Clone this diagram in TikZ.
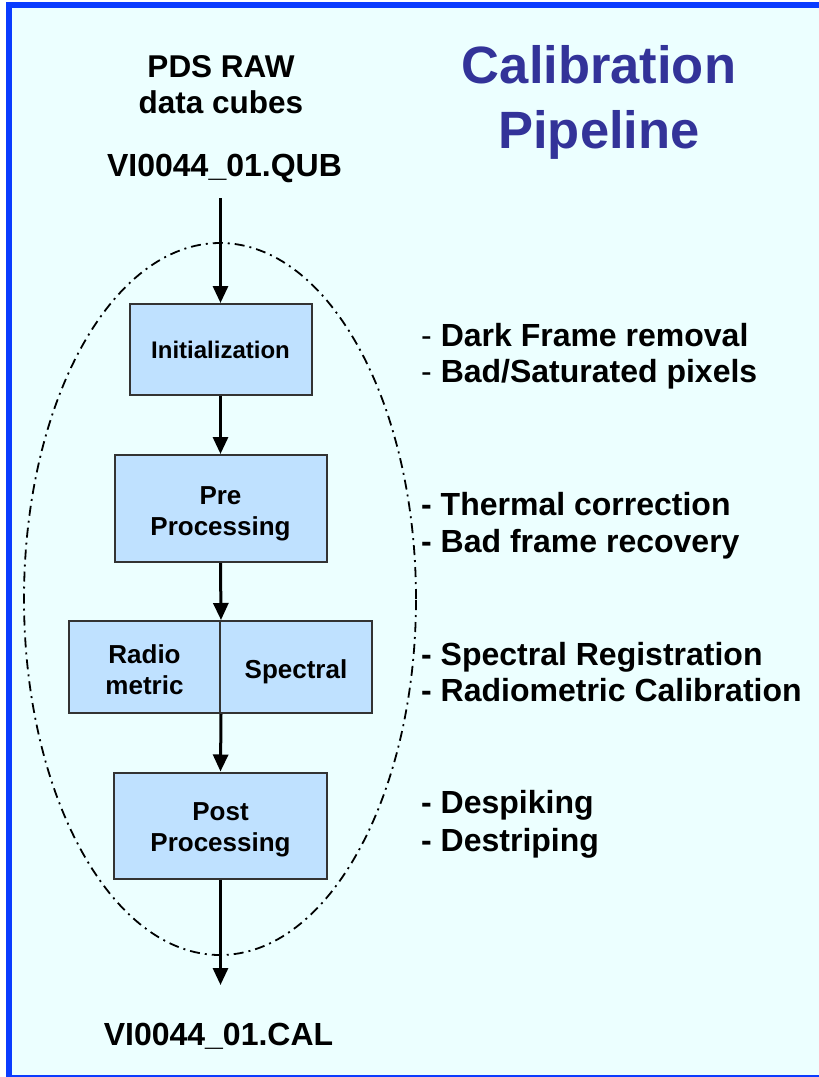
\documentclass[tikz,border=0pt]{standalone}
\usepackage{fontspec}
\setmainfont{Liberation Sans}
\usetikzlibrary{arrows.meta,shapes.geometric}
\definecolor{bgc}{HTML}{ECFFFF}
\definecolor{boxc}{HTML}{BFE1FF}
\definecolor{titlec}{HTML}{333399}
\definecolor{framec}{HTML}{0A3CFF}
\begin{document}
\begin{tikzpicture}[x=1pt,y=-1pt,
  stage/.style={draw=black!80, line width=2pt, fill=boxc, inner sep=0pt},
  stagetext/.style={font=\bfseries\fontsize{26}{31}\selectfont, align=center, inner sep=0pt},
  flow/.style={line width=3pt, -{Triangle[width=15pt,length=17pt]}},
  lbl/.style={font=\bfseries\fontsize{32}{38}\selectfont, anchor=base, inner sep=0pt},
  note/.style={font=\bfseries\fontsize{32}{38}\selectfont, anchor=base west, inner sep=0pt},
  titletext/.style={font=\bfseries\fontsize{52.5}{62}\selectfont, text=titlec, anchor=base, inner sep=0pt},
  loopline/.style={draw, line width=1.8pt, dash pattern=on 10pt off 5pt on 2pt off 5pt}
]
\useasboundingbox (0,0) rectangle (819,1077);
\fill[bgc] (9,5) rectangle (819,1077);
\draw[framec, line width=6pt] (9,5) rectangle (850,1078);

\node[ellipse, loopline, minimum width=392pt, minimum height=712pt, inner sep=0pt] (loop) at (220,599) {};

\node[stage, minimum width=182pt, minimum height=91pt,
  label={[stagetext, font=\bfseries\fontsize{24}{29}\selectfont]center:Initialization}] (init) at (220.5,349.5) {};
\node[stage, minimum width=212pt, minimum height=107pt,
  label={[stagetext, yshift=-5pt]center:{Pre\\Processing}}] (pre) at (220.5,508.5) {};
\node[stage, minimum width=151pt, minimum height=92pt,
  label={[stagetext, yshift=-3pt]center:{Radio\\metric}}] (radio) at (144.5,667) {};
\node[stage, minimum width=152pt, minimum height=92pt,
  label={[stagetext, yshift=-5pt]center:Spectral}] (spec) at (296,667) {};
\node[stage, minimum width=213pt, minimum height=106pt,
  label={[stagetext, yshift=-4pt]center:{Post\\Processing}}] (post) at (220.5,825.5) {};

\coordinate (src) at (220.5,198);
\coordinate (dst) at (220.5,985);
\draw[flow] (src) -- (init.north);
\draw[flow] (init.south) -- (pre.north);
\draw[flow] (pre.south) -- (radio.north east);
\draw[flow] (radio.south east) -- (post.north);
\draw[flow] (post.south) -- (dst);

\node[lbl, font=\bfseries\fontsize{31.5}{38}\selectfont] (pds) at (221,77) {PDS RAW};
\node[lbl, font=\bfseries\fontsize{31.5}{38}\selectfont] (cubes) at (221,113) {data cubes};
\node[lbl] (qub) at (224.5,176) {VI0044\_01.QUB};
\node[lbl] (cal) at (218.5,1045) {VI0044\_01.CAL};

\node[titletext] (t1) at (599,83) {Calibration};
\node[titletext] (t2) at (599,148) {Pipeline};

\node[note] (n1) at (421,346) {{\mdseries -} Dark Frame removal};
\node[note] (n2) at (421,382) {{\mdseries -} Bad/Saturated pixels};
\node[note] (n3) at (421,515) {- Thermal correction};
\node[note] (n4) at (421,552) {- Bad frame recovery};
\node[note] (n5) at (421,665) {- Spectral Registration};
\node[note] (n6) at (421,701) {- Radiometric Calibration};
\node[note] (n7) at (421,813) {- Despiking};
\node[note] (n8) at (421,851) {- Destriping};
\end{tikzpicture}
\end{document}
